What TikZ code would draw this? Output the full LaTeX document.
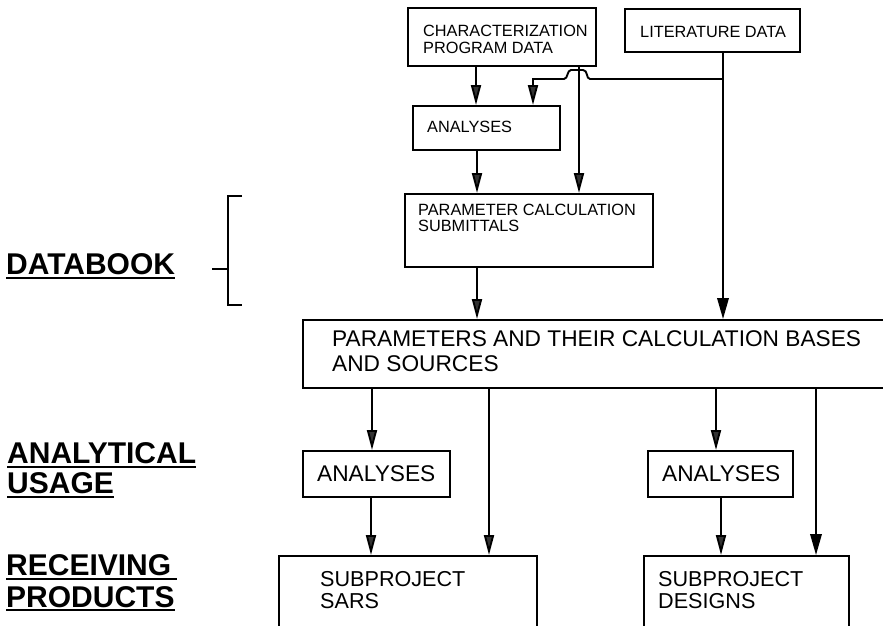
\documentclass[tikz,border=0pt]{standalone}
\usepackage{fontspec}
\setmainfont{Liberation Sans}
\usetikzlibrary{arrows.meta}
\begin{document}
\begin{tikzpicture}[x=1pt,y=-1pt,
  box/.style={draw, line width=1.8pt, anchor=north west, inner sep=0pt},
  txt/.style={anchor=north west, inner sep=0pt, align=left},
  smalltxt/.style={txt, font=\fontsize{16.3}{17}\selectfont},
  bigtxt/.style={txt, font=\fontsize{22.7}{25}\selectfont},
  ln/.style={line width=1.9pt},
  harr/.style={ln, -{Triangle[length=20pt,width=10pt,fill=black!80]}},
  sarr/.style={ln, -{Triangle[length=21pt,width=11.5pt]}},
  lab/.style={font=\fontsize{30}{32}\selectfont\bfseries, anchor=base west, inner sep=0pt},
  ul/.style={line width=2.2pt},
]
\useasboundingbox (0,0) rectangle (883,626);
\clip (0,0) rectangle (883,626);

% ---- boxes ----
\node[box, minimum width=188pt, minimum height=58pt] (char) at (407,7) {};
\node[smalltxt] (charT) at (423,25) {CHARACTERIZATION\\PROGRAM DATA};

\node[box, minimum width=175pt, minimum height=43pt] (lit) at (624,8) {};
\node[smalltxt] (litT) at (640,26.5) {LITERATURE DATA};

\node[box, minimum width=147pt, minimum height=44pt] (an1) at (412,105) {};
\node[smalltxt] (an1T) at (427,121) {ANALYSES};

\node[box, minimum width=248pt, minimum height=73pt] (pcs) at (404,193) {};
\node[txt, font=\fontsize{16.3}{15.5}\selectfont] (pcsT) at (418,204) {PARAMETER CALCULATION\\SUBMITTALS};

\node[box, minimum width=620pt, minimum height=68pt] (par) at (302,319) {};
\node[bigtxt] (parT) at (332,330) {PARAMETERS AND THEIR CALCULATION BASES\\AND SOURCES};

\node[box, minimum width=147pt, minimum height=46pt] (an2) at (302,450) {};
\node[bigtxt] (an2T) at (317,465) {ANALYSES};

\node[box, minimum width=145pt, minimum height=46pt] (an3) at (647,450) {};
\node[bigtxt] (an3T) at (662,465) {ANALYSES};

\node[box, minimum width=258pt, minimum height=100pt] (sars) at (278,555) {};
\node[txt, font=\fontsize{21.6}{22}\selectfont] (sarsT) at (320,571) {SUBPROJECT\\SARS};

\node[box, minimum width=205pt, minimum height=100pt] (des) at (643,555) {};
\node[txt, font=\fontsize{21.6}{22}\selectfont] (desT) at (658,571) {SUBPROJECT\\DESIGNS};

% ---- connectors (upper) ----
\draw[harr] (char.south -| 476,0) -- (an1.north -| 476,0);
\draw[harr] (char.south -| 579,0) -- (pcs.north -| 579,0);
\draw[sarr] (lit.south -| 723,0) -- (par.north -| 723,0);
\coordinate (j) at (723,79);
\draw[harr] (j) -- (590,79) .. controls (586,79) and (588,70) .. (583,70)
  -- (571,70) .. controls (567,70) and (568,79) .. (564,79)
  -- (533,79) -- (an1.north -| 533,0);
\draw[harr] (an1.south -| 477,0) -- (pcs.north -| 477,0);
\draw[harr] (pcs.south -| 477,0) -- (par.north -| 477,0);

% ---- connectors (lower) ----
\draw[harr] (par.south -| 372,0) -- (an2.north -| 372,0);
\draw[harr] (par.south -| 489,0) -- (sars.north -| 489,0);
\draw[harr] (par.south -| 716,0) -- (an3.north -| 716,0);
\draw[sarr] (par.south -| 816,0) -- (des.north -| 816,0);
\draw[harr] (an2.south -| 371,0) -- (sars.north -| 371,0);
\draw[harr] (an3.south -| 721,0) -- (des.north -| 721,0);

% ---- left labels ----
\node[lab] (db) at (6,274) {DATABOOK};
\draw[ul] ([yshift=-4pt]db.base west) -- ([yshift=-4pt]db.base east);
\node[lab] (au1) at (7,463) {ANALYTICAL};
\draw[ul] ([yshift=-4pt]au1.base west) -- ([yshift=-4pt]au1.base east);
\node[lab] (au2) at (7,493) {USAGE};
\draw[ul] ([yshift=-4pt]au2.base west) -- ([yshift=-4pt]au2.base east);
\node[lab] (rp1) at (6,575) {RECEIVING};
\draw[ul] ([yshift=-4pt]rp1.base west) -- ([yshift=-4pt,xshift=6pt]rp1.base east);
\node[lab] (rp2) at (6,607) {PRODUCTS};
\draw[ul] ([yshift=-3pt]rp2.base west) -- ([yshift=-3pt]rp2.base east);

% ---- bracket ----
\coordinate (bt) at (228,196);
\coordinate (bb) at (228,305);
\coordinate (bm) at (228,269);
\draw[ln] ([xshift=14pt]bt) -- (bt) -- (bb) -- ([xshift=14pt]bb);
\draw[ln] (bm) -- ([xshift=-16pt]bm);
\end{tikzpicture}
\end{document}
